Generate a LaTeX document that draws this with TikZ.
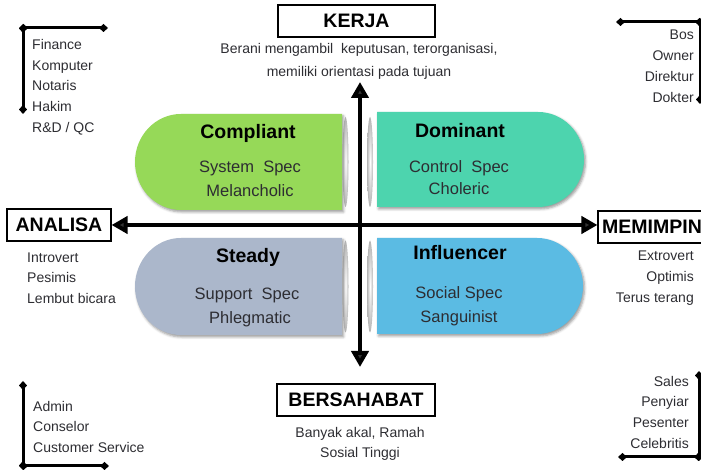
\documentclass[tikz,border=0pt]{standalone}
\usepackage{fontspec}
\setmainfont{Liberation Sans}
\usetikzlibrary{arrows.meta,shadows.blur}

\definecolor{compliantC}{RGB}{150,217,88}
\definecolor{dominantC}{RGB}{77,212,174}
\definecolor{steadyC}{RGB}{171,183,203}
\definecolor{influencerC}{RGB}{91,187,227}
\definecolor{inkC}{RGB}{45,45,50}

\newcommand\fsz[2]{\fontsize{#1}{#2}\selectfont}

\tikzset{
  quadshape/.style={blur shadow={shadow xshift=1.5pt,shadow yshift=-2pt,
      shadow blur radius=2.5pt,shadow opacity=40}},
  headbox/.style={draw=black, line width=1.1pt, fill=white, inner sep=0pt,
      minimum height=32pt, font=\fsz{19.5}{22}\bfseries},
  quadtitle/.style={font=\fsz{19.5}{22}\bfseries, inner sep=0pt},
  quadtext/.style={font=\fsz{16.5}{20}, text=inkC, inner sep=0pt},
  listtext/.style={text=inkC, inner sep=0pt},
  axis/.style={line width=4.5pt,
      {Triangle[length=16pt,width=17pt]}-{Triangle[length=16pt,width=17pt]}},
  bracket/.style={line width=3pt,
      {Diamond[length=9pt,width=8pt]}-{Diamond[length=9pt,width=8pt]},
      shorten <=-4pt, shorten >=-4pt},
  lens/.style={inner color=white, outer color=black!45, opacity=0.65},
}

\begin{document}
\begin{tikzpicture}[x=1pt,y=1pt]
\useasboundingbox (0,0) rectangle (701,470);
\clip (0,0) rectangle (701,470);

% the four temperament quadrants
\path[fill=compliantC, quadshape] (342,356) -- (181,356)
  arc[start angle=90,end angle=270,x radius=46pt,y radius=48pt] -- (342,260) -- cycle;
\path[fill=steadyC, quadshape] (342,232) -- (181,232)
  arc[start angle=90,end angle=270,x radius=46pt,y radius=48.5pt] -- (342,135) -- cycle;
\path[fill=dominantC, quadshape] (377,358) -- (538,358)
  arc[start angle=90,end angle=-90,x radius=46pt,y radius=47.5pt] -- (377,263) -- cycle;
\path[fill=influencerC, quadshape] (377,232) -- (537,232)
  arc[start angle=90,end angle=-90,x radius=46pt,y radius=48pt] -- (377,136) -- cycle;

% soft edges beside the vertical axis
\shade[lens] (345.5,308) ellipse[x radius=3pt,y radius=45pt];
\shade[lens] (345.5,183.5) ellipse[x radius=3pt,y radius=46pt];
\shade[lens] (370,308) ellipse[x radius=3pt,y radius=45pt];
\shade[lens] (370,183.5) ellipse[x radius=3pt,y radius=46pt];

% quadrant labels
\node[quadtitle, anchor=base] (compT) at (248,331) {Compliant};
\node[quadtext, anchor=base] (compS) at (250,297) {System\ \ Spec};
\node[quadtext, anchor=base] (compM) at (250,273) {Melancholic};

\node[quadtitle, anchor=base] (domT) at (460,332) {Dominant};
\node[quadtext, anchor=base] (domS) at (459,297) {Control\ \ Spec};
\node[quadtext, anchor=base] (domM) at (459,275) {Choleric};

\node[quadtitle, anchor=base] (stdT) at (248,207) {Steady};
\node[quadtext, anchor=base] (stdS) at (247,170) {Support\ \ Spec};
\node[quadtext, anchor=base] (stdM) at (250,146) {Phlegmatic};

\node[quadtitle, anchor=base] (infT) at (460,210) {Influencer};
\node[quadtext, anchor=base] (infS) at (459,171) {Social Spec};
\node[quadtext, anchor=base] (infM) at (459,147) {Sanguinist};

% axis headings
\node[headbox, minimum width=157pt] (kerja) at (356.5,449) {KERJA};
\node[headbox, minimum width=104pt] (analisa) at (59,245) {ANALISA};
\node[headbox, minimum width=108pt] (memimpin) at (652,243) {MEMIMPIN};
\node[headbox, minimum width=158pt] (bersahabat) at (356,70) {BERSAHABAT};

% axes
\coordinate (ntip) at (360,388);
\coordinate (stip) at (360,103);
\draw[axis] (ntip) -- (stip);
\draw[axis] (analisa.east) -- (analisa.east -| memimpin.west);

% axis descriptions
\node[listtext, font=\fsz{14}{23}, align=center, anchor=north] (kerjaD) at (359,428)
  {\rule{0pt}{11pt}Berani mengambil\ \ keputusan, terorganisasi,\\memiliki orientasi pada tujuan};
\node[listtext, font=\fsz{14}{20}, align=center, anchor=north] (bersD) at (360,44)
  {\rule{0pt}{11pt}Banyak akal, Ramah\\Sosial Tinggi};
\node[listtext, font=\fsz{14}{20.5}, align=left, anchor=north west] (analisaD) at (27,219)
  {\rule{0pt}{11pt}Introvert\\Pesimis\\Lembut bicara};
\node[listtext, font=\fsz{14}{21}, align=right, anchor=north east] (memimpinD) at (694,221)
  {\rule{0pt}{11pt}Extrovert\\Optimis\\Terus terang};

% professions in the corners
\node[listtext, font=\fsz{14}{20.9}, align=left, anchor=north west] (jobsNW) at (32,432)
  {\rule{0pt}{11pt}Finance\\Komputer\\Notaris\\Hakim\\R\&D / QC};
\node[listtext, font=\fsz{14}{21}, align=right, anchor=north east] (jobsNE) at (694,442)
  {\rule{0pt}{11pt}Bos\\Owner\\Direktur\\Dokter};
\node[listtext, font=\fsz{14}{20.5}, align=left, anchor=north west] (jobsSW) at (33,70)
  {\rule{0pt}{11pt}Admin\\Conselor\\Customer Service};
\node[listtext, font=\fsz{14}{20.7}, align=right, anchor=north east] (jobsSE) at (689,95)
  {\rule{0pt}{11pt}Sales\\Penyiar\\Pesenter\\Celebritis};

% corner brackets
\coordinate (nwC) at (23,442); \coordinate (nwH) at (104,442); \coordinate (nwV) at (23,360);
\draw[bracket] (nwH) -- (nwC); \draw[bracket] (nwC) -- (nwV);
\coordinate (neC) at (700,448); \coordinate (neH) at (620,448); \coordinate (neV) at (700,370);
\draw[bracket] (neH) -- (neC); \draw[bracket] (neC) -- (neV);
\coordinate (swC) at (23,4); \coordinate (swH) at (105,4); \coordinate (swV) at (23,85);
\draw[bracket] (swV) -- (swC); \draw[bracket] (swC) -- (swH);
\coordinate (seC) at (699,13); \coordinate (seH) at (622,13); \coordinate (seV) at (699,95);
\draw[bracket] (seV) -- (seC); \draw[bracket] (seC) -- (seH);
\end{tikzpicture}
\end{document}
